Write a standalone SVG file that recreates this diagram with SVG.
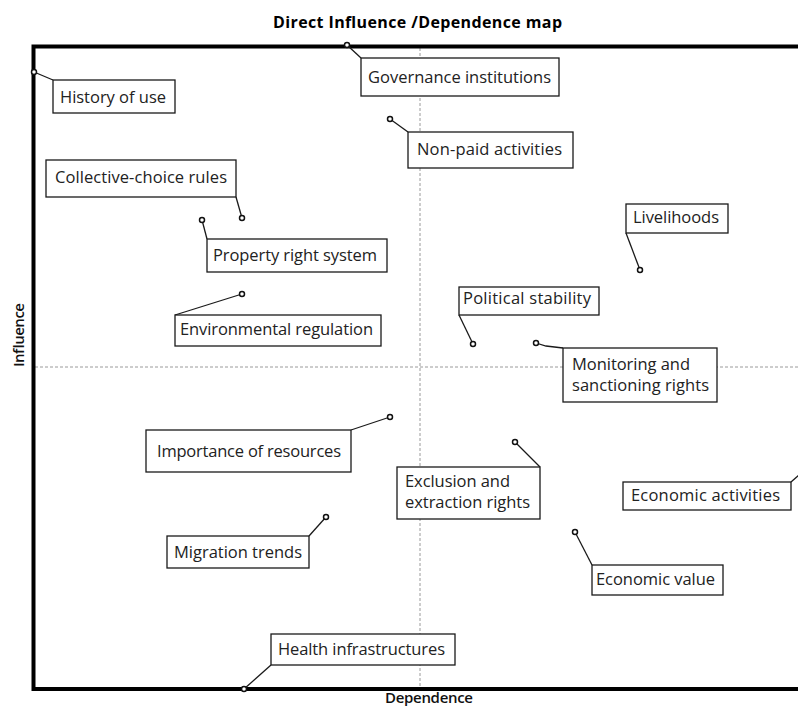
<svg xmlns="http://www.w3.org/2000/svg" width="798" height="709" viewBox="0 0 798 709">
<style>
  .frame{fill:none;stroke:#000;stroke-width:4}
  .grid{stroke:#9a9a9a;stroke-width:1;stroke-dasharray:3,2;fill:none}
  .box{fill:#fff;stroke:#1a1a1a;stroke-width:1.3}
  .lbl{font-family:"Open Sans","Noto Sans","DejaVu Sans",sans-serif;font-size:16.5px;fill:#222}
  .ttl{font-family:"Open Sans","Noto Sans","DejaVu Sans",sans-serif;font-size:16px;font-weight:bold;fill:#000}
  .ax{font-family:"Open Sans","Noto Sans","DejaVu Sans",sans-serif;font-size:15px;font-weight:600;fill:#111}
  .lead{stroke:#1a1a1a;stroke-width:1.3;fill:none}
  .pt{fill:#fff;stroke:#111;stroke-width:1.5}
</style>
<rect x="0" y="0" width="798" height="709" fill="#fff"/>
<text class="ttl" x="273" y="28" textLength="289">Direct Influence /Dependence map</text>
<text class="ax" transform="translate(24,335) rotate(-90)" text-anchor="middle" textLength="64">Influence</text>
<text class="ax" x="429" y="703" text-anchor="middle" textLength="88">Dependence</text>
<g id="grid">
  <line class="grid" x1="35" y1="367" x2="798" y2="367"/>
  <line class="grid" x1="420" y1="48" x2="420" y2="687"/>
</g>
<rect class="frame" x="33.5" y="46.5" width="800" height="642.5"/>
<g id="connectors">
  <line class="lead" x1="34" y1="72" x2="53" y2="80"/>
  <line class="lead" x1="347" y1="45" x2="361" y2="58"/>
  <line class="lead" x1="390" y1="119" x2="408" y2="132"/>
  <line class="lead" x1="236" y1="197" x2="242" y2="218"/>
  <line class="lead" x1="202" y1="220" x2="207" y2="239"/>
  <line class="lead" x1="242" y1="294" x2="175" y2="315"/>
  <line class="lead" x1="626" y1="233" x2="640" y2="270"/>
  <line class="lead" x1="459" y1="315" x2="473" y2="344"/>
  <polyline class="lead" points="536,343 546,346 563,348"/>
  <line class="lead" x1="351" y1="430" x2="390" y2="417"/>
  <line class="lead" x1="515" y1="442" x2="540" y2="467"/>
  <line class="lead" x1="309" y1="536" x2="326" y2="517"/>
  <line class="lead" x1="791" y1="482" x2="800" y2="474"/>
  <line class="lead" x1="575" y1="532" x2="592" y2="565"/>
  <line class="lead" x1="271" y1="665" x2="244" y2="689"/>
</g>
<g id="history-of-use">
  <rect class="box" x="53" y="80" width="122" height="33"/>
  <text class="lbl" x="60" y="103" textLength="106">History of use</text>
  <circle class="pt" cx="34" cy="72" r="2.5"/>
</g>
<g id="governance-institutions">
  <rect class="box" x="361" y="58" width="198" height="38"/>
  <text class="lbl" x="368" y="83" textLength="183">Governance institutions</text>
  <circle class="pt" cx="347" cy="45" r="2.5"/>
</g>
<g id="non-paid-activities">
  <rect class="box" x="408" y="132" width="165" height="36"/>
  <text class="lbl" x="417" y="155" textLength="145">Non-paid activities</text>
  <circle class="pt" cx="390" cy="119" r="2.5"/>
</g>
<g id="collective-choice-rules">
  <rect class="box" x="46" y="160" width="190" height="37"/>
  <text class="lbl" x="55" y="183" textLength="172">Collective-choice rules</text>
  <circle class="pt" cx="242" cy="218" r="2.5"/>
</g>
<g id="property-right-system">
  <rect class="box" x="207" y="239" width="180" height="33"/>
  <text class="lbl" x="213" y="261" textLength="164">Property right system</text>
  <circle class="pt" cx="202" cy="220" r="2.5"/>
</g>
<g id="environmental-regulation">
  <rect class="box" x="175" y="315" width="206" height="31"/>
  <text class="lbl" x="180" y="335" textLength="193">Environmental regulation</text>
  <circle class="pt" cx="242" cy="294" r="2.5"/>
</g>
<g id="livelihoods">
  <rect class="box" x="626" y="204" width="102" height="29"/>
  <text class="lbl" x="633" y="223" textLength="86">Livelihoods</text>
  <circle class="pt" cx="640" cy="270" r="2.5"/>
</g>
<g id="political-stability">
  <rect class="box" x="459" y="287" width="140" height="28"/>
  <text class="lbl" x="463" y="304" textLength="128">Political stability</text>
  <circle class="pt" cx="473" cy="344" r="2.5"/>
</g>
<g id="monitoring-and-sanctioning-rights">
  <rect class="box" x="563" y="348" width="154" height="54"/>
  <text class="lbl" x="572" y="370" textLength="118">Monitoring and</text>
  <text class="lbl" x="572" y="391" textLength="137">sanctioning rights</text>
  <circle class="pt" cx="536" cy="343" r="2.5"/>
</g>
<g id="importance-of-resources">
  <rect class="box" x="146" y="430" width="205" height="42"/>
  <text class="lbl" x="157" y="457" textLength="184">Importance of resources</text>
  <circle class="pt" cx="390" cy="417" r="2.5"/>
</g>
<g id="exclusion-and-extraction-rights">
  <rect class="box" x="397" y="467" width="143" height="52"/>
  <text class="lbl" x="405" y="487" textLength="105">Exclusion and</text>
  <text class="lbl" x="405" y="508" textLength="125">extraction rights</text>
  <circle class="pt" cx="515" cy="442" r="2.5"/>
</g>
<g id="migration-trends">
  <rect class="box" x="167" y="536" width="142" height="32"/>
  <text class="lbl" x="174" y="558" textLength="128">Migration trends</text>
  <circle class="pt" cx="326" cy="517" r="2.5"/>
</g>
<g id="economic-activities">
  <rect class="box" x="623" y="482" width="168" height="28"/>
  <text class="lbl" x="631" y="501" textLength="149">Economic activities</text>
</g>
<g id="economic-value">
  <rect class="box" x="592" y="565" width="131" height="30"/>
  <text class="lbl" x="596" y="585" textLength="119">Economic value</text>
  <circle class="pt" cx="575" cy="532" r="2.5"/>
</g>
<g id="health-infrastructures">
  <rect class="box" x="271" y="634" width="184" height="31"/>
  <text class="lbl" x="278" y="655" textLength="167">Health infrastructures</text>
  <circle class="pt" cx="244" cy="689" r="2.5"/>
</g>
</svg>
